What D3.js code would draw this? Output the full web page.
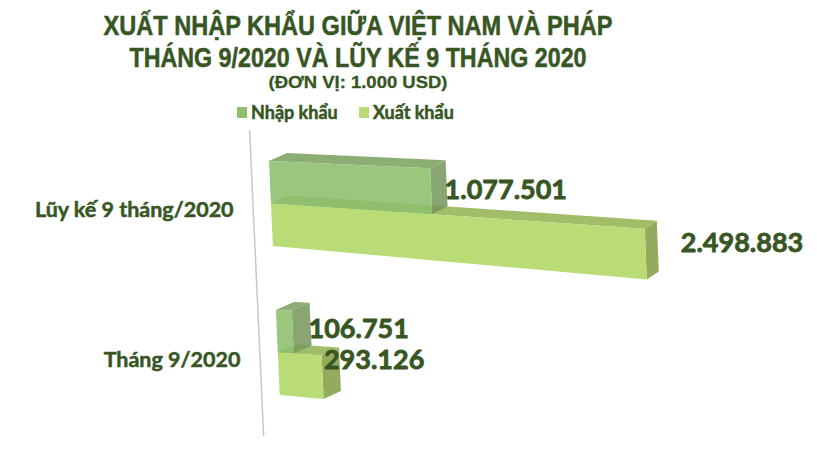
<!DOCTYPE html>
<html>
<head>
<meta charset="utf-8">
<script src="https://cdn.jsdelivr.net/npm/d3@7"></script>
<style>
  body { margin: 0; background: #fff; }
  svg { display: block; }
</style>
</head>
<body>
<svg id="chart"></svg>
<script>
const svg_width = 817;
const svg_height = 467;

// data
const categories = ["Lũy kế 9 tháng/2020", "Tháng 9/2020"];
const series = ["Nhập khẩu", "Xuất khẩu"];
const importValues = [1077501, 106751];
const exportValues = [2498883, 293126];
const titleLines = ["XUẤT NHẬP KHẨU GIỮA VIỆT NAM VÀ PHÁP", "THÁNG 9/2020 VÀ LŨY KẾ 9 THÁNG 2020"];
const unitLabel = "(ĐƠN VỊ: 1.000 USD)";

// styles
const textColor = "#375623";
const faces = {
  "Nhập khẩu": { front: "#8dbf6d", top: "#7da361", side: "#78995f", opacity: 0.88 },
  "Xuất khẩu": { front: "#badc76", top: "#a2bd6a", side: "#93aa5f", opacity: 1 }
};
// label nudges [category][series] -> [dx, dy]
const labelNudge = [[[-2, 8], [23, -2]], [[-2, 6], [-16, -8]]];
const titleWidths = [509, 457];

const lean = 0.046;     // slant of the category axis
const xLeft = 269;
const yTop = 161;

var svg = d3.select("svg#chart")
    .attr("width", svg_width)
    .attr("height", svg_height);

const fmt = d3.formatLocale({ decimal: ",", thousands: ".", grouping: [3], currency: ["", ""] }).format(",");

var x = d3.scaleLinear()
    .domain([0, 2500000])
    .range([0, 374]);

var yBand = d3.scaleBand()
    .domain(categories)
    .range([yTop, 395])
    .paddingInner(0.43);

var sub = d3.scaleBand()
    .domain(series)
    .range([0, 1]);

// pseudo 3d projection
function proj(px, cat, frac, z) {
  let bt = yBand(cat), bw = yBand.bandwidth();
  let py = bt + frac * bw;
  let slope = 0.045 + 0.045 * frac;
  let xl = xLeft + lean * (py - yTop);
  let ddx = 18 - 0.016 * px, ddy = -8;
  return [xl + px + z * ddx, py + slope * px + z * ddy];
}

function pts(list) {
  return list.map(p => p.join(",")).join(" ");
}

// heavier text, like the original's bold face
function heavy(sel, w) {
  sel.style("stroke", textColor)
     .style("stroke-width", w)
     .style("stroke-linejoin", "round");
}

// title
svg.append("g").selectAll("text")
  .data(titleLines)
  .enter().append("text")
  .attr("x", 358)
  .attr("y", (d, i) => 35 + i * 32)
  .attr("text-anchor", "middle")
  .attr("textLength", (d, i) => titleWidths[i])
  .attr("lengthAdjust", "spacingAndGlyphs")
  .style("font-family", "'Liberation Sans', Arial, sans-serif")
  .style("font-weight", "bold")
  .style("font-size", "27px")
  .style("fill", textColor)
  .text(d => d)
  .call(heavy, 0.5);

svg.append("text")
  .attr("x", 358)
  .attr("y", 88)
  .attr("text-anchor", "middle")
  .attr("textLength", 179)
  .attr("lengthAdjust", "spacingAndGlyphs")
  .style("font-family", "'Liberation Sans', Arial, sans-serif")
  .style("font-weight", "bold")
  .style("font-size", "17px")
  .style("fill", textColor)
  .text(unitLabel)
  .call(heavy, 0.3);

// legend
var legendX = [237, 359];
var lg = svg.append("g").selectAll("g")
  .data(series)
  .enter().append("g")
  .attr("transform", (d, i) => translate(legendX[i], 107));
lg.append("rect")
  .attr("width", 10)
  .attr("height", 11)
  .attr("fill", d => faces[d].front);
lg.append("text")
  .attr("x", 14)
  .attr("y", 12)
  .style("font-family", "Lato, sans-serif")
  .style("font-weight", "bold")
  .style("font-size", "18px")
  .style("fill", textColor)
  .text(d => d)
  .call(heavy, 0.5);

// category axis line
var axisY = [130, 436];
svg.append("line")
  .attr("x1", xLeft - 18 + lean * (axisY[0] - yTop))
  .attr("y1", axisY[0])
  .attr("x2", xLeft - 18 + lean * (axisY[1] - yTop))
  .attr("y2", axisY[1])
  .attr("stroke", "#c8c8c8")
  .attr("stroke-width", 1.5);

// category labels
svg.append("g").selectAll("text")
  .data(categories)
  .enter().append("text")
  .attr("x", d => {
    let yy = yBand(d) + yBand.bandwidth() / 2 + 14;
    return xLeft - 38 + lean * (yy - yTop);
  })
  .attr("y", d => yBand(d) + yBand.bandwidth() / 2 + 14)
  .attr("text-anchor", "end")
  .style("font-family", "Lato, sans-serif")
  .style("font-weight", "bold")
  .style("font-size", "21.5px")
  .style("fill", textColor)
  .text(d => d)
  .call(heavy, 0.5);

// bars
var rows = [];
categories.forEach((c, ci) => {
  // export drawn first so the import bar sits over it
  rows.push({ cat: c, ci: ci, s: series[1], si: 1, value: exportValues[ci] });
  rows.push({ cat: c, ci: ci, s: series[0], si: 0, value: importValues[ci] });
});

var bars = svg.append("g").selectAll("g")
  .data(rows)
  .enter().append("g")
  .attr("opacity", d => faces[d.s].opacity);

bars.each(function(d) {
  let g = d3.select(this);
  let L = x(d.value);
  let f0 = sub(d.s), f1 = f0 + sub.bandwidth();
  let col = faces[d.s];

  g.append("polygon")
    .attr("points", pts([proj(0, d.cat, f0, 0), proj(L, d.cat, f0, 0), proj(L, d.cat, f0, 1), proj(0, d.cat, f0, 1)]))
    .attr("fill", col.top);
  g.append("polygon")
    .attr("points", pts([proj(L, d.cat, f0, 0), proj(L, d.cat, f0, 1), proj(L, d.cat, f1, 1), proj(L, d.cat, f1, 0)]))
    .attr("fill", col.side);
  g.append("polygon")
    .attr("points", pts([proj(0, d.cat, f0, 0), proj(L, d.cat, f0, 0), proj(L, d.cat, f1, 0), proj(0, d.cat, f1, 0)]))
    .attr("fill", col.front);
});

// value labels
svg.append("g").selectAll("text")
  .data(rows)
  .enter().append("text")
  .attr("x", d => {
    let L = x(d.value);
    let fm = sub(d.s) + sub.bandwidth() / 2;
    return proj(L, d.cat, fm, 1)[0] + labelNudge[d.ci][d.si][0];
  })
  .attr("y", d => {
    let L = x(d.value);
    let fm = sub(d.s) + sub.bandwidth() / 2;
    return proj(L, d.cat, fm, 0)[1] + labelNudge[d.ci][d.si][1];
  })
  .style("font-family", "Lato, sans-serif")
  .style("font-weight", "bold")
  .style("font-size", "27px")
  .style("fill", textColor)
  .text(d => fmt(d.value))
  .call(heavy, 0.8);

function translate(x, y) {
  return 'translate(' + String(x) + ',' + String(y) + ')';
}
</script>
</body>
</html>
